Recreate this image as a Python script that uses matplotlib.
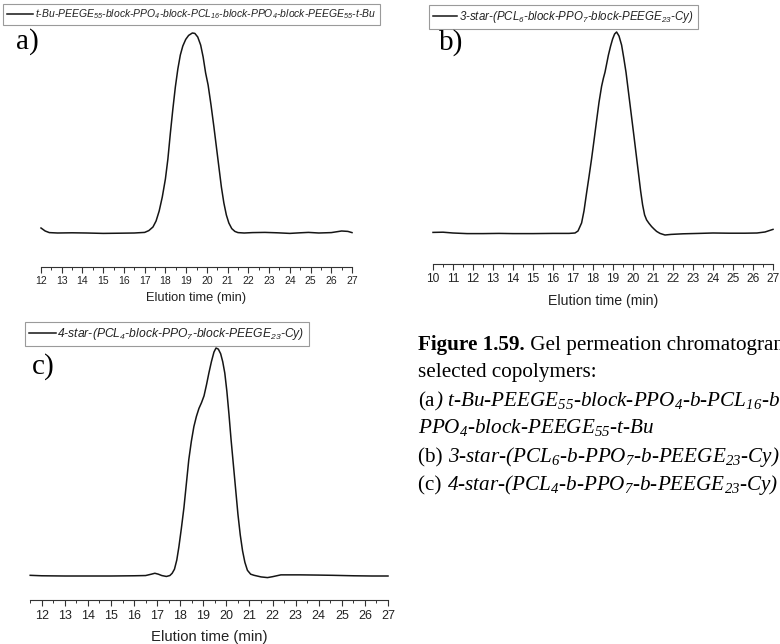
import matplotlib
matplotlib.use("Agg")
import matplotlib.pyplot as plt
from matplotlib.ticker import MultipleLocator

# ---- GPC traces (normalised RI signal vs elution time, min) ----
time_a = [12.0, 12.2, 12.4, 12.8, 13.5, 14.2, 15.0, 15.8, 16.5, 17.0, 17.2, 17.4,
          17.55, 17.7, 17.85, 18.0, 18.12, 18.24, 18.36, 18.48, 18.6, 18.72, 18.84,
          18.98, 19.12, 19.3, 19.42, 19.56, 19.7, 19.82, 19.94, 20.06, 20.2, 20.34,
          20.46, 20.58, 20.7, 20.82, 20.94, 21.06, 21.2, 21.35, 21.5, 21.8, 22.2,
          22.8, 23.4, 24.0, 24.5, 24.9, 25.4, 26.0, 26.5, 26.8, 27.0]
signal_a = [0.025, 0.01, 0.002, 0.0, 0.001, 0.0, -0.002, -0.001, 0.0, 0.003, 0.012, 0.03,
            0.06, 0.11, 0.18, 0.27, 0.37, 0.5, 0.62, 0.73, 0.82, 0.89, 0.935,
            0.968, 0.988, 1.0, 0.998, 0.98, 0.94, 0.88, 0.80, 0.74, 0.64, 0.53,
            0.43, 0.33, 0.23, 0.15, 0.09, 0.05, 0.022, 0.008, 0.002, 0.0, 0.002,
            0.003, 0.001, -0.002, 0.001, 0.003, 0.0, 0.002, 0.01, 0.008, 0.002]

time_b = [10.0, 10.5, 11.0, 11.7, 12.5, 13.3, 14.0, 15.0, 16.0, 16.8, 17.1, 17.25,
          17.43, 17.55, 17.68, 17.8, 17.93, 18.05, 18.18, 18.3, 18.43, 18.52, 18.6,
          18.68, 18.77, 18.88, 18.98, 19.08, 19.18, 19.3, 19.43, 19.54, 19.65, 19.75,
          19.85, 19.95, 20.05, 20.16, 20.27, 20.38, 20.48, 20.58, 20.68, 20.8, 20.93,
          21.05, 21.18, 21.35, 21.6, 21.9, 22.5, 23.3, 24.0, 24.8, 25.6, 26.2, 26.6, 27.0]
signal_b = [0.003, 0.004, 0.0, -0.003, -0.003, -0.002, -0.003, -0.003, -0.002, -0.002, 0.0, 0.01,
            0.05, 0.11, 0.2, 0.28, 0.37, 0.46, 0.56, 0.65, 0.73, 0.77, 0.8,
            0.84, 0.885, 0.93, 0.965, 0.99, 1.0, 0.98, 0.935, 0.87, 0.80, 0.72,
            0.64, 0.56, 0.48, 0.39, 0.30, 0.21, 0.14, 0.09, 0.065, 0.048, 0.032,
            0.02, 0.008, -0.002, -0.01, -0.007, -0.004, -0.002, 0.0, -0.001, -0.001, 0.0, 0.005, 0.018]

time_c = [11.5, 12.0, 13.0, 14.0, 15.0, 16.0, 16.5, 16.75, 16.9, 17.05, 17.2, 17.4,
          17.55, 17.65, 17.75, 17.85, 17.94, 18.05, 18.16, 18.27, 18.37, 18.48, 18.59,
          18.7, 18.81, 18.92, 19.03, 19.14, 19.24, 19.35, 19.46, 19.55, 19.65, 19.75,
          19.84, 19.93, 20.02, 20.11, 20.2, 20.3, 20.4, 20.5, 20.6, 20.7, 20.8, 20.91,
          21.05, 21.2, 21.5, 21.78, 22.0, 22.36, 22.8, 23.2, 24.0, 24.6, 25.5, 26.3, 27.0]
signal_c = [0.003, 0.001, 0.0, 0.0, 0.0, 0.001, 0.002, 0.008, 0.012, 0.008, 0.002, -0.002,
            0.002, 0.012, 0.03, 0.07, 0.127, 0.21, 0.30, 0.41, 0.51, 0.59, 0.655,
            0.70, 0.735, 0.76, 0.79, 0.84, 0.89, 0.94, 0.982, 1.0, 0.995, 0.975,
            0.94, 0.89, 0.81, 0.71, 0.6, 0.49, 0.38, 0.27, 0.18, 0.11, 0.06, 0.025,
            0.008, 0.003, -0.004, -0.007, -0.003, 0.005, 0.005, 0.005, 0.004, 0.003, 0.001, 0.0, 0.0]

label_a = ("t-Bu-PEEGE$_\\mathregular{55}$-block-PPO$_\\mathregular{4}$-block-PCL$_\\mathregular{16}$"
           "-block-PPO$_\\mathregular{4}$-block-PEEGE$_\\mathregular{55}$-t-Bu")
label_b = "3-star-(PCL$_\\mathregular{6}$-block-PPO$_\\mathregular{7}$-block-PEEGE$_\\mathregular{23}$-Cy)"
label_c = "4-star-(PCL$_\\mathregular{4}$-block-PPO$_\\mathregular{7}$-block-PEEGE$_\\mathregular{23}$-Cy)"
xlabel = "Elution time (min)"

W, H = 780, 644
SANS = "Liberation Sans"
SERIF = "Liberation Serif"
plt.rcParams["font.family"] = [SANS, "DejaVu Sans"]

fig = plt.figure(figsize=(W / 100, H / 100), dpi=100)
fig.patch.set_facecolor("white")


def axes_px(left, right, bottom, top):
    return fig.add_axes([left / W, 1 - bottom / H, (right - left) / W, (bottom - top) / H])


def ylim_px(ax, bottom, top, base, peak):
    s = base - peak
    ax.set_ylim(-(bottom - base) / s, 1 + (peak - top) / s)


def style_axis(ax, xlim, tick_fs, label_fs, tick_pad, label_pad):
    ax.set_xlim(*xlim)
    for sp in ("left", "right", "top"):
        ax.spines[sp].set_visible(False)
    ax.spines["bottom"].set_linewidth(0.8)
    ax.spines["bottom"].set_color("#333333")
    ax.set_yticks([])
    ax.xaxis.set_major_locator(MultipleLocator(1))
    ax.xaxis.set_minor_locator(MultipleLocator(0.5))
    ax.tick_params(axis="x", which="major", direction="out", length=4, width=0.8,
                   color="#333333", pad=tick_pad, labelsize=tick_fs, labelcolor="#222222")
    ax.tick_params(axis="x", which="minor", direction="out", length=2, width=0.7, color="#333333")
    ax.set_xlabel(xlabel, fontsize=label_fs, labelpad=label_pad, color="#222222")
    ax.patch.set_visible(False)


def legend_px(ax, x, y, size, handlelength, textpad):
    leg = ax.legend(loc="upper left", bbox_to_anchor=(x / W, 1 - y / H),
                    bbox_transform=fig.transFigure, borderaxespad=0, frameon=True,
                    fancybox=False, framealpha=1, edgecolor="#9a9a9a",
                    prop={"family": SANS, "style": "italic", "size": size},
                    handlelength=handlelength, handletextpad=textpad, borderpad=0.35)
    leg.get_frame().set_linewidth(0.8)
    for t in leg.get_texts():
        t.set_color("#222222")
    return leg


line_kw = dict(color="#151515", lw=1.1, clip_on=False, solid_joinstyle="round")

# (a)
ax_a = axes_px(41, 352, 267, 30)
ax_a.plot(time_a, signal_a, label=label_a, **line_kw)
ylim_px(ax_a, 267, 30, 233, 33)
style_axis(ax_a, (12, 27), 7.5, 9.3, 2.6, 4.2)
legend_px(ax_a, 3, 4, 7.5, 2.5, 0.25)

# (b)
ax_b = axes_px(433, 773, 264, 30)
ax_b.plot(time_b, signal_b, label=label_b, **line_kw)
ylim_px(ax_b, 264, 30, 233, 32)
style_axis(ax_b, (10, 27), 8.6, 10.2, 2.8, 6.0)
legend_px(ax_b, 429, 5, 8.3, 2.1, 0.15)

# (c)
ax_c = axes_px(30.2, 388, 600, 345)
ax_c.plot(time_c, signal_c, label=label_c, **line_kw)
ylim_px(ax_c, 600, 345, 576, 348)
style_axis(ax_c, (11.5, 27), 9.0, 10.7, 3.3, 5.6)
legend_px(ax_c, 25, 322, 8.7, 2.2, 0.1)

# panel letters
for txt, x, y in (("a)", 16, 49), ("b)", 439, 50), ("c)", 32, 374)):
    fig.text(x / W, 1 - y / H, txt, family=SERIF, fontsize=21, ha="left", va="baseline")

# caption, written segment by segment so that the styles can change within a line
renderer = fig.canvas.get_renderer()
CAP = 15.2


def seg_width(s, props):
    t1 = fig.text(0, 0, "X" + s + "X", **props)
    t0 = fig.text(0, 0, "XX", **props)
    w = t1.get_window_extent(renderer).width - t0.get_window_extent(renderer).width
    t1.remove()
    t0.remove()
    return w


def rich_line(x, y, segments):
    for s, extra in segments:
        props = dict(family=SERIF, fontsize=CAP, color="black")
        props.update(extra)
        fig.text(x / W, 1 - y / H, s, ha="left", va="baseline", **props)
        x += seg_width(s, props)


REG = {}
BOLD = {"weight": "bold"}
IT = {"style": "italic"}

caption = [
    (350, [("Figure 1.59.", BOLD), (" Gel permeation chromatograms of the", REG)]),
    (377, [("selected copolymers:", REG)]),
    (406, [("(a", REG), (") t-Bu-PEEGE$_\\mathregular{55}$-block-PPO$_\\mathregular{4}$-b-PCL$_\\mathregular{16}$-block-", IT)]),
    (433, [("PPO$_\\mathregular{4}$-block-PEEGE$_\\mathregular{55}$-t-Bu", IT)]),
    (462, [("(b) ", REG), ("3-star-(PCL$_\\mathregular{6}$-b-PPO$_\\mathregular{7}$-b-PEEGE$_\\mathregular{23}$-Cy)", IT)]),
    (490, [("(c) ", REG), ("4-star-(PCL$_\\mathregular{4}$-b-PPO$_\\mathregular{7}$-b-PEEGE$_\\mathregular{23}$-Cy)", IT)]),
]
for y, segs in caption:
    rich_line(418, y, segs)

fig.savefig("out.png", dpi=100, facecolor="white")
